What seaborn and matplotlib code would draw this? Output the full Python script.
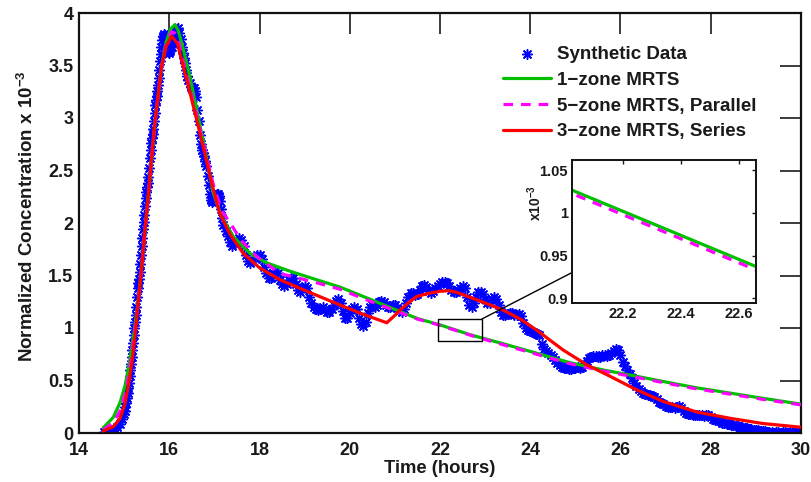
import numpy as np
import matplotlib
matplotlib.use('Agg')
import matplotlib.pyplot as plt
import seaborn as sns
from matplotlib.patches import Rectangle

sns.set_style('white')
plt.rcParams['font.family'] = ['Liberation Sans', 'DejaVu Sans']
plt.rcParams['font.weight'] = 'bold'
plt.rcParams['mathtext.fontset'] = 'custom'
plt.rcParams['mathtext.rm'] = 'Liberation Sans:bold'
plt.rcParams['mathtext.bf'] = 'Liberation Sans:bold'
plt.rcParams['mathtext.default'] = 'bf'
for k in ['text.color', 'axes.labelcolor', 'xtick.color', 'ytick.color', 'axes.edgecolor']:
    plt.rcParams[k] = '#1a1a1a'

# ---------------- data ----------------
# Synthetic data, sampled in segments (start time, step, values)
seg1_start, seg1_step = 14.55, 0.05
seg1_vals = [0.01, 0.01, 0.01, 0.02, 0.03, 0.04, 0.06, 0.09, 0.13]
seg2_start, seg2_step = 15.00, 0.015
seg2_vals = [0.18, 0.21, 0.25, 0.29, 0.33, 0.38, 0.43, 0.48, 0.54, 0.60,
             0.66, 0.72, 0.79, 0.86, 0.93, 1.00, 1.06, 1.12, 1.20, 1.30,
             1.38, 1.43, 1.47, 1.53, 1.61, 1.70, 1.78, 1.86, 1.94, 2.01,
             2.08, 2.16, 2.24, 2.30, 2.34, 2.38, 2.44, 2.52, 2.62, 2.70,
             2.76, 2.81, 2.85, 2.90, 2.97, 3.05, 3.12, 3.17, 3.21, 3.26,
             3.31, 3.38, 3.46, 3.54, 3.61, 3.68, 3.74, 3.78]
seg3_start, seg3_step = 15.875, 0.025
seg3_vals = [3.80, 3.79, 3.74, 3.68, 3.63, 3.62, 3.64, 3.68, 3.71, 3.73,
             3.76, 3.81, 3.85, 3.86, 3.81, 3.75, 3.68, 3.62, 3.57, 3.52,
             3.46, 3.40, 3.36, 3.33, 3.30, 3.28, 3.29, 3.29, 3.26, 3.20,
             3.08, 2.97, 2.84, 2.75, 2.70, 2.67, 2.64, 2.59, 2.54, 2.45,
             2.36, 2.28, 2.22, 2.20, 2.21, 2.24, 2.27, 2.28, 2.28, 2.26,
             2.21, 2.13, 2.05]
seg4_start, seg4_step = 17.20, 0.05
seg4_vals = [1.98, 1.92, 1.88, 1.82, 1.78, 1.80, 1.84, 1.86, 1.84, 1.78,
             1.70, 1.64, 1.62, 1.64, 1.68, 1.70, 1.70, 1.66, 1.58, 1.52,
             1.48, 1.48, 1.52, 1.54, 1.52, 1.46, 1.42, 1.40, 1.42, 1.46,
             1.48, 1.48, 1.42, 1.36, 1.34, 1.38, 1.40, 1.38, 1.30, 1.24,
             1.20, 1.18, 1.17, 1.18, 1.20, 1.18, 1.15, 1.15, 1.18, 1.22,
             1.26, 1.28, 1.24, 1.16, 1.10, 1.10, 1.14, 1.18, 1.20, 1.18,
             1.10, 1.04, 1.02, 1.06, 1.14, 1.20, 1.22, 1.20, 1.22, 1.25,
             1.26, 1.25, 1.22, 1.20, 1.20, 1.22, 1.22, 1.19, 1.16, 1.15,
             1.18, 1.24, 1.30, 1.33, 1.33, 1.31, 1.32, 1.36, 1.40, 1.41,
             1.39, 1.35, 1.33, 1.35, 1.38, 1.40, 1.42, 1.44, 1.44, 1.43,
             1.40, 1.36, 1.34, 1.34, 1.36, 1.38, 1.40, 1.38, 1.30, 1.22,
             1.20, 1.24, 1.30, 1.34, 1.34, 1.32, 1.28, 1.24, 1.24, 1.28,
             1.30, 1.28, 1.22, 1.15, 1.12, 1.12, 1.13, 1.14, 1.14, 1.12,
             1.12, 1.13, 1.11, 1.05, 1.00, 0.98, 0.97, 0.96, 0.95, 0.94,
             0.93, 0.85, 0.80, 0.78, 0.76, 0.74, 0.72, 0.70, 0.67, 0.65,
             0.63, 0.62, 0.62, 0.61, 0.61, 0.62, 0.62, 0.63, 0.62, 0.63,
             0.66, 0.69, 0.71, 0.72, 0.73, 0.73, 0.72, 0.72, 0.74, 0.74,
             0.73, 0.74, 0.76, 0.78, 0.80, 0.79, 0.74, 0.68, 0.64, 0.60,
             0.56, 0.52, 0.48, 0.45, 0.42, 0.40, 0.38, 0.37, 0.36, 0.36,
             0.35, 0.34, 0.32, 0.30, 0.29, 0.28, 0.26, 0.25, 0.25, 0.25,
             0.24, 0.25, 0.26, 0.24, 0.21, 0.19, 0.18, 0.18, 0.17, 0.17,
             0.17, 0.17, 0.17, 0.16, 0.17, 0.17, 0.15, 0.13, 0.12, 0.12,
             0.11, 0.10, 0.10, 0.09, 0.09, 0.08, 0.08, 0.07, 0.07, 0.06,
             0.06, 0.05, 0.05, 0.04, 0.04, 0.03, 0.03, 0.03, 0.02, 0.02,
             0.02, 0.01, 0.01, 0.01, 0.00, 0.01, 0.01, 0.00, 0.01, 0.01,
             0.00, 0.01, 0.01, 0.00, 0.01, 0.01, 0.01]

# 1-zone MRTS
green_t = [14.54, 14.76, 14.91, 15.02, 15.11, 15.20, 15.30, 15.39, 15.46, 15.54,
           15.61, 15.68, 15.76, 15.83, 15.93, 16.03, 16.13, 16.20, 16.28, 16.46,
           16.61, 16.79, 16.98, 17.16, 17.42, 17.79, 18.16, 18.68, 19.19, 19.78,
           20.30, 21.04, 21.50, 22.02, 22.66, 23.40, 24.14, 24.88, 25.62, 26.36,
           26.95, 27.69, 28.43, 29.16, 30.00]
green_c = [0.05, 0.15, 0.29, 0.45, 0.65, 0.90, 1.22, 1.58, 1.92, 2.28,
           2.62, 2.94, 3.24, 3.49, 3.72, 3.85, 3.89, 3.83, 3.71, 3.39,
           3.08, 2.70, 2.28, 2.06, 1.87, 1.71, 1.62, 1.54, 1.47, 1.39,
           1.30, 1.17, 1.09, 1.027, 0.937, 0.85, 0.76, 0.67, 0.60, 0.54,
           0.49, 0.43, 0.38, 0.33, 0.275]

# 5-zone MRTS, parallel
mag_t = [14.54, 14.76, 14.91, 15.02, 15.11, 15.20, 15.30, 15.39, 15.46, 15.54,
         15.61, 15.68, 15.76, 15.83, 15.93, 16.05, 16.12, 16.20, 16.31, 16.46,
         16.61, 16.79, 16.98, 17.16, 17.35, 17.60, 17.94, 18.45, 19.19, 19.78,
         20.30, 21.04, 21.50, 22.02, 22.66, 23.40, 24.14, 24.88, 25.62, 26.36,
         26.95, 27.69, 28.43, 29.16, 30.00]
mag_c = [0.03, 0.10, 0.21, 0.37, 0.56, 0.85, 1.20, 1.58, 1.92, 2.28,
         2.62, 2.94, 3.24, 3.49, 3.70, 3.82, 3.81, 3.74, 3.54, 3.28,
         3.02, 2.70, 2.36, 2.12, 2.00, 1.83, 1.68, 1.52, 1.44, 1.37,
         1.28, 1.16, 1.085, 1.023, 0.933, 0.84, 0.75, 0.66, 0.59, 0.53,
         0.48, 0.42, 0.37, 0.32, 0.268]

# 3-zone MRTS, series
red_t = [14.54, 14.76, 14.91, 15.02, 15.09, 15.17, 15.24, 15.31, 15.39, 15.46,
         15.54, 15.61, 15.68, 15.76, 15.83, 15.93, 16.05, 16.18, 16.31, 16.46,
         16.61, 16.79, 16.94, 17.12, 17.35, 17.64, 18.01, 18.45, 19.05, 19.78,
         20.30, 20.82, 21.00, 21.11, 21.30, 21.48, 21.75, 22.00, 22.20, 22.37,
         22.74, 23.11, 23.40, 23.80, 24.14, 24.45, 24.73, 25.25, 25.77, 26.36,
         26.95, 27.69, 28.43, 29.16, 30.00]
red_c = [0.02, 0.06, 0.14, 0.28, 0.44, 0.66, 0.92, 1.24, 1.58, 1.93,
         2.28, 2.63, 2.95, 3.24, 3.49, 3.68, 3.78, 3.71, 3.49, 3.24,
         2.98, 2.66, 2.38, 2.09, 1.89, 1.71, 1.57, 1.46, 1.35, 1.22,
         1.13, 1.05, 1.12, 1.17, 1.24, 1.30, 1.33, 1.35, 1.355, 1.34,
         1.28, 1.22, 1.17, 1.08, 0.98, 0.88, 0.79, 0.65, 0.54, 0.41,
         0.30, 0.20, 0.14, 0.09, 0.055]

x_ticks = [14, 16, 18, 20, 22, 24, 26, 28, 30]
y_ticks = [0, 0.5, 1, 1.5, 2, 2.5, 3, 3.5, 4]
y_ticklabels = ['0', '0.5', '1', '1.5', '2', '2.5', '3', '3.5', '4']
in_x_ticks = [22.2, 22.4, 22.6]
in_y_ticks = [0.9, 0.95, 1.0, 1.05]
in_y_ticklabels = ['0.9', '0.95', '1', '1.05']

labels = ['Synthetic Data', '1\u2212zone MRTS', '5\u2212zone MRTS, Parallel',
          '3\u2212zone MRTS, Series']

# sample times of the synthetic data (sampling grid of each segment)
data_t, data_c = [], []
for st, sp, vals in [(seg1_start, seg1_step, seg1_vals),
                     (seg2_start, seg2_step, seg2_vals),
                     (seg3_start, seg3_step, seg3_vals),
                     (seg4_start, seg4_step, seg4_vals)]:
    data_t += [round(st + sp * i, 4) for i in range(len(vals))]
    data_c += vals

GREEN = '#00c000'
MAG = '#ff00ff'
RED = '#ff0000'
BLUE = '#0000ff'
ast = (8, 2, 0)

W, H = 812, 482
fig = plt.figure(figsize=(W / 100, H / 100), dpi=100)
ax = fig.add_axes([79 / W, 49 / H, 722 / W, 420 / H])

sns.scatterplot(x=data_t, y=data_c, marker=ast, s=49, color=BLUE, linewidth=1.1,
                ax=ax, label=labels[0], zorder=2)
sns.lineplot(x=green_t, y=green_c, color=GREEN, lw=2.3, ax=ax, label=labels[1],
             estimator=None, sort=False, zorder=3)
sns.lineplot(x=mag_t, y=mag_c, color=MAG, lw=2.3, linestyle=(0, (3, 2.5)), ax=ax,
             label=labels[2], estimator=None, sort=False, zorder=4)
sns.lineplot(x=red_t, y=red_c, color=RED, lw=2.3, ax=ax, label=labels[3],
             estimator=None, sort=False, zorder=5)

ax.set_xlim(14, 30)
ax.set_ylim(0, 4)
ax.set_xticks(x_ticks)
ax.set_xticklabels([str(v) for v in x_ticks])
ax.set_yticks(y_ticks)
ax.set_yticklabels(y_ticklabels)
ax.tick_params(direction='in', length=15, width=1.2, top=True, right=True,
               labelsize=13, colors='#1a1a1a')
ax.tick_params(axis='x', pad=6.5)
ax.tick_params(axis='y', pad=4)
for s in ax.spines.values():
    s.set_linewidth(1.6)
    s.set_color('#111111')
ax.set_xlabel('Time (hours)', fontsize=13.3, fontweight='bold', labelpad=1)
ax.set_ylabel(r'Normalized Concentration x 10$^{-3}$', fontsize=13.5,
              fontweight='bold')
ax.yaxis.set_label_coords(-0.058, 0.517)

leg = ax.legend(loc='upper left', bbox_to_anchor=(503 / W, 1 - 46 / H),
                bbox_transform=fig.transFigure, frameon=False, borderpad=0,
                borderaxespad=0, handlelength=2.56, handletextpad=0.32,
                labelspacing=0.46, fontsize=13.5, scatterpoints=1)
for t in leg.get_texts():
    t.set_fontweight('bold')

# zoom rectangle and arrow
ax.add_patch(Rectangle((21.95, 0.876), 0.99, 0.207, fill=False, ec='k', lw=1.0,
                       zorder=6))
ax.annotate('', xy=(25.81, 1.724), xytext=(22.93, 1.086),
            arrowprops=dict(arrowstyle='-|>', color='k', lw=1.0,
                            mutation_scale=14, shrinkA=0, shrinkB=0), zorder=6)

# inset
axin = fig.add_axes([572 / W, 179 / H, 184 / W, 143 / H])
sns.lineplot(x=green_t, y=green_c, color=GREEN, lw=2.3, ax=axin, legend=False,
             estimator=None, sort=False)
sns.lineplot(x=mag_t, y=mag_c, color=MAG, lw=2.3, linestyle=(0, (3, 2.5)),
             ax=axin, legend=False, estimator=None, sort=False)
axin.set_xlim(22.024, 22.659)
axin.set_ylim(0.8945, 1.0617)
axin.set_xticks(in_x_ticks)
axin.set_xticklabels([str(v) for v in in_x_ticks])
axin.set_yticks(in_y_ticks)
axin.set_yticklabels(in_y_ticklabels)
axin.tick_params(direction='in', length=3, width=1, top=True, right=True,
                 labelsize=10.5, colors='#1a1a1a', pad=3)
for s in axin.spines.values():
    s.set_linewidth(1.4)
    s.set_color('#111111')
axin.set_xlabel('')
axin.set_ylabel(r'x10$^{-3}$', fontsize=10, fontweight='bold')
axin.yaxis.set_label_coords(-0.15, 0.70)

fig.savefig('out.png', dpi=100, facecolor='white')
